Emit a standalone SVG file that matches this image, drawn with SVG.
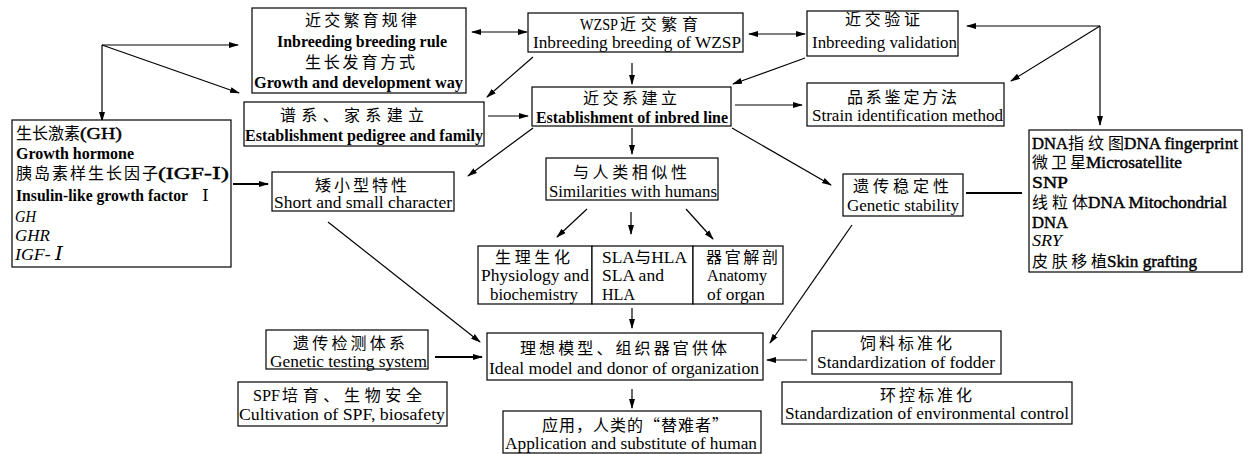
<svg xmlns="http://www.w3.org/2000/svg" width="1248" height="454" viewBox="0 0 1248 454">
<style>
.box{fill:#fff;stroke:#000;stroke-width:1.2}
.cn{font-family:"Noto Sans CJK SC","Liberation Serif",serif;font-size:16px;fill:#000}
.en{font-family:"Liberation Serif",serif;font-size:17px;fill:#000}
.rn{font-family:"DejaVu Serif","Liberation Serif",serif}
.b{font-weight:bold}
.sb{stroke:#000;stroke-width:0.45px}
.i{font-style:italic}
.ln{stroke:#000;stroke-width:1.2;fill:none}
.thk{stroke-width:2.2}
</style>
<defs>
<marker id="ah" markerWidth="10" markerHeight="8" refX="9" refY="4" orient="auto" markerUnits="userSpaceOnUse">
<path d="M0,1 L10,4 L0,7 Z" fill="#000"/>
</marker>
<marker id="as" markerWidth="10" markerHeight="8" refX="1" refY="4" orient="auto" markerUnits="userSpaceOnUse">
<path d="M10,1 L0,4 L10,7 Z" fill="#000"/>
</marker>
</defs>
<rect width="1248" height="454" fill="#fff"/>

<g id="connectors">
<line class="ln" x1="472" y1="32" x2="527" y2="32" marker-start="url(#as)" marker-end="url(#ah)"/>
<line class="ln" x1="749" y1="34" x2="805" y2="34" marker-start="url(#as)" marker-end="url(#ah)"/>
<line class="ln" x1="102" y1="45" x2="102" y2="121" marker-end="url(#ah)"/>
<line class="ln" x1="102" y1="45" x2="238" y2="45" marker-end="url(#ah)"/>
<line class="ln" x1="102" y1="45" x2="239" y2="93" marker-end="url(#ah)"/>
<line class="ln" x1="533" y1="57" x2="487" y2="97" marker-end="url(#ah)"/>
<line class="ln" x1="632" y1="63" x2="632" y2="84" marker-end="url(#ah)"/>
<line class="ln" x1="805" y1="58" x2="733" y2="84" marker-end="url(#ah)"/>
<line class="ln" x1="488" y1="116" x2="528" y2="116" marker-end="url(#ah)"/>
<line class="ln" x1="735" y1="105" x2="802" y2="105" marker-end="url(#ah)"/>
<line class="ln" x1="1100" y1="26" x2="967" y2="26" marker-end="url(#ah)"/>
<line class="ln" x1="1100" y1="26" x2="1011" y2="81" marker-end="url(#ah)"/>
<line class="ln" x1="1100" y1="26" x2="1100" y2="125" marker-end="url(#ah)"/>
<line class="ln" x1="533" y1="128" x2="468" y2="176" marker-end="url(#ah)"/>
<line class="ln" x1="632" y1="128" x2="632" y2="154" marker-end="url(#ah)"/>
<line class="ln" x1="732" y1="128" x2="831" y2="185" marker-end="url(#ah)"/>
<line class="ln" x1="587" y1="209" x2="557" y2="237" marker-end="url(#ah)"/>
<line class="ln" x1="631" y1="212" x2="631" y2="234" marker-end="url(#ah)"/>
<line class="ln" x1="686" y1="209" x2="713" y2="239" marker-end="url(#ah)"/>
<line class="ln thk" x1="233" y1="184" x2="268" y2="184" marker-end="url(#ah)"/>
<line class="ln thk" x1="966" y1="193" x2="1022" y2="193"/>
<line class="ln" x1="632" y1="308" x2="632" y2="328" marker-end="url(#ah)"/>
<line class="ln" x1="328" y1="222" x2="480" y2="342" marker-end="url(#ah)"/>
<line class="ln thk" x1="435" y1="357" x2="482" y2="357" marker-end="url(#ah)"/>
<line class="ln" x1="852" y1="225" x2="770" y2="343" marker-end="url(#ah)"/>
<line class="ln" x1="807" y1="360" x2="767" y2="360" marker-end="url(#ah)"/>
<line class="ln" x1="632" y1="389" x2="632" y2="408" marker-end="url(#ah)"/>
</g>

<g id="n-rule">
<rect class="box" x="252" y="8" width="214" height="85"/>
<text class="cn" x="305" y="26" textLength="112">近交繁育规律</text>
<text class="en b" x="277" y="47" textLength="170" lengthAdjust="spacingAndGlyphs">Inbreeding breeding rule</text>
<text class="cn" x="305" y="68" textLength="110">生长发育方式</text>
<text class="en b" x="254" y="88" textLength="209" lengthAdjust="spacingAndGlyphs">Growth and development way</text>
</g>

<g id="n-wzsp">
<rect class="box" x="528" y="13" width="215" height="39"/>
<text class="en" x="580" y="30" textLength="38" lengthAdjust="spacingAndGlyphs">WZSP</text>
<text class="cn" x="620" y="30" textLength="78">近交繁育</text>
<text class="en" x="533" y="48" textLength="208" lengthAdjust="spacingAndGlyphs">Inbreeding breeding of WZSP</text>
</g>

<g id="n-valid">
<rect class="box" x="807" y="11" width="151" height="45"/>
<text class="cn" x="845" y="25" textLength="75">近交验证</text>
<text class="en" x="812" y="48" textLength="145" lengthAdjust="spacingAndGlyphs">Inbreeding validation</text>
</g>

<g id="n-pedigree">
<rect class="box" x="244" y="102" width="240" height="44"/>
<text class="cn" x="280" y="121" textLength="144">谱系、家系建立</text>
<text class="en b" x="245" y="141" textLength="238" lengthAdjust="spacingAndGlyphs">Establishment pedigree and family</text>
</g>

<g id="n-inbred">
<rect class="box" x="532" y="87" width="199" height="39"/>
<text class="cn" x="583" y="104" textLength="94">近交系建立</text>
<text class="en b" x="536" y="123" textLength="192" lengthAdjust="spacingAndGlyphs">Establishment of inbred line</text>
</g>

<g id="n-strain">
<rect class="box" x="807" y="83" width="197" height="43"/>
<text class="cn" x="847" y="103" textLength="110">品系鉴定方法</text>
<text class="en" x="812" y="121" textLength="191" lengthAdjust="spacingAndGlyphs">Strain identification method</text>
</g>

<g id="n-gh">
<rect class="box" x="12" y="120" width="219" height="147"/>
<text class="cn" x="16" y="139" textLength="64">生长激素</text>
<text class="en sb" x="80" y="139" textLength="42" lengthAdjust="spacingAndGlyphs">(GH)</text>
<text class="en b" x="16" y="159" textLength="118" lengthAdjust="spacingAndGlyphs">Growth hormone</text>
<text class="cn" x="16" y="179" textLength="142">胰岛素样生长因子</text>
<text class="en sb" x="158" y="179" textLength="71" lengthAdjust="spacingAndGlyphs">(IGF-<tspan class="rn">Ⅰ</tspan>)</text>
<text class="en b" x="16" y="201" textLength="172" lengthAdjust="spacingAndGlyphs">Insulin-like growth factor</text>
<text class="en rn" x="202" y="201">Ⅰ</text>
<text class="en i" x="15" y="222" textLength="21" lengthAdjust="spacingAndGlyphs">GH</text>
<text class="en i" x="15" y="241" textLength="35" lengthAdjust="spacingAndGlyphs">GHR</text>
<text class="en i" x="15" y="260" textLength="48" lengthAdjust="spacingAndGlyphs">IGF- <tspan class="rn" style="font-size:19px">Ⅰ</tspan></text>
</g>

<g id="n-short">
<rect class="box" x="272" y="172" width="182" height="39"/>
<text class="cn" x="315" y="191" textLength="92">矮小型特性</text>
<text class="en" x="274" y="208" textLength="178" lengthAdjust="spacingAndGlyphs">Short and small character</text>
</g>

<g id="n-similar">
<rect class="box" x="546" y="158" width="172" height="42"/>
<text class="cn" x="573" y="178" textLength="114">与人类相似性</text>
<text class="en" x="549" y="197" textLength="168" lengthAdjust="spacingAndGlyphs">Similarities with humans</text>
</g>

<g id="n-stability">
<rect class="box" x="843" y="174" width="120" height="42"/>
<text class="cn" x="853" y="192" textLength="96">遗传稳定性</text>
<text class="en" x="847" y="211" textLength="112" lengthAdjust="spacingAndGlyphs">Genetic stability</text>
</g>

<g id="n-dna">
<rect class="box" x="1029" y="130" width="213" height="142"/>
<text class="en sb" x="1032" y="149" textLength="36" lengthAdjust="spacingAndGlyphs">DNA</text>
<text class="cn" x="1068" y="149" textLength="56">指纹图</text>
<text class="en sb" x="1124" y="149" textLength="114" lengthAdjust="spacingAndGlyphs">DNA fingerprint</text>
<text class="cn" x="1032" y="168" textLength="54">微卫星</text>
<text class="en sb" x="1086" y="168" textLength="96" lengthAdjust="spacingAndGlyphs">Microsatellite</text>
<text class="en sb" x="1032" y="188" textLength="36" lengthAdjust="spacingAndGlyphs">SNP</text>
<text class="cn" x="1032" y="208" textLength="56">线粒体</text>
<text class="en sb" x="1088" y="208" textLength="139" lengthAdjust="spacingAndGlyphs">DNA Mitochondrial</text>
<text class="en sb" x="1032" y="228" textLength="36" lengthAdjust="spacingAndGlyphs">DNA</text>
<text class="en i" x="1032" y="246" textLength="30" lengthAdjust="spacingAndGlyphs">SRY</text>
<text class="cn" x="1032" y="267" textLength="75">皮肤移植</text>
<text class="en sb" x="1107" y="267" textLength="90" lengthAdjust="spacingAndGlyphs">Skin grafting</text>
</g>

<g id="n-physio">
<rect class="box" x="478" y="246" width="114" height="58"/>
<text class="cn" x="495" y="263" textLength="75">生理生化</text>
<text class="en" x="481" y="281" textLength="108" lengthAdjust="spacingAndGlyphs">Physiology and</text>
<text class="en" x="490" y="300" textLength="88" lengthAdjust="spacingAndGlyphs">biochemistry</text>
</g>

<g id="n-sla">
<rect class="box" x="592" y="246" width="101" height="58"/>
<text class="en" x="602" y="263" textLength="85" lengthAdjust="spacingAndGlyphs">SLA<tspan class="cn">与</tspan>HLA</text>
<text class="en" x="602" y="281" textLength="62" lengthAdjust="spacingAndGlyphs">SLA and</text>
<text class="en" x="602" y="300" textLength="33" lengthAdjust="spacingAndGlyphs">HLA</text>
</g>

<g id="n-anatomy">
<rect class="box" x="693" y="246" width="90" height="58"/>
<text class="cn" x="706" y="263" textLength="72">器官解剖</text>
<text class="en" x="707" y="281" textLength="60" lengthAdjust="spacingAndGlyphs">Anatomy</text>
<text class="en" x="707" y="300" textLength="58" lengthAdjust="spacingAndGlyphs">of organ</text>
</g>

<g id="n-testing">
<rect class="box" x="266" y="330" width="162" height="39"/>
<text class="cn" x="293" y="349" textLength="112">遗传检测体系</text>
<text class="en" x="270" y="367" textLength="157" lengthAdjust="spacingAndGlyphs">Genetic testing system</text>
</g>

<g id="n-spf">
<rect class="box" x="238" y="382" width="209" height="44"/>
<text class="en" x="253" y="401" textLength="27" lengthAdjust="spacingAndGlyphs">SPF</text>
<text class="cn" x="282" y="401" textLength="140">培育、生物安全</text>
<text class="en" x="239" y="420" textLength="206" lengthAdjust="spacingAndGlyphs">Cultivation of SPF, biosafety</text>
</g>

<g id="n-ideal">
<rect class="box" x="487" y="333" width="276" height="47"/>
<text class="cn" x="520" y="354" textLength="207">理想模型、组织器官供体</text>
<text class="en" x="489" y="374" textLength="270" lengthAdjust="spacingAndGlyphs">Ideal model and donor of organization</text>
</g>

<g id="n-app">
<rect class="box" x="503" y="411" width="258" height="42"/>
<text class="cn" x="542" y="431" textLength="186">应用，人类的“替难者”</text>
<text class="en" x="505" y="449" textLength="252" lengthAdjust="spacingAndGlyphs">Application and substitute of human</text>
</g>

<g id="n-fodder">
<rect class="box" x="812" y="331" width="189" height="43"/>
<text class="cn" x="860" y="349" textLength="92">饲料标准化</text>
<text class="en" x="817" y="368" textLength="178" lengthAdjust="spacingAndGlyphs">Standardization of fodder</text>
</g>

<g id="n-env">
<rect class="box" x="782" y="382" width="290" height="42"/>
<text class="cn" x="880" y="401" textLength="92">环控标准化</text>
<text class="en" x="785" y="419" textLength="284" lengthAdjust="spacingAndGlyphs">Standardization of environmental control</text>
</g>
</svg>
